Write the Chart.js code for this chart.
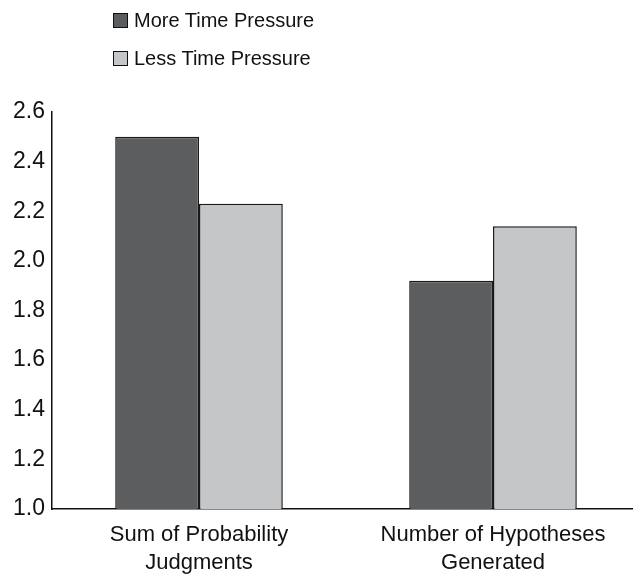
<!DOCTYPE html>
<html>
<head>
<meta charset="utf-8">
<script src="https://cdn.jsdelivr.net/npm/chart.js@4.4.0/dist/chart.umd.min.js"></script>
<style>
  html, body { margin: 0; padding: 0; background: #fff; overflow: hidden; }
  #wrap { position: relative; width: 640px; height: 576px; }
  #legend { position: absolute; left: 113px; top: 0; font-family: "Liberation Sans", Arial, sans-serif; font-size: 20px; color: #111; }
  .item { position: absolute; left: 0; white-space: nowrap; display: flex; align-items: center; height: 24px; }
  .box { width: 13px; height: 13px; border: 1.5px solid #111; margin-right: 6px; }
</style>
</head>
<body>
<div id="wrap">
  <canvas id="chart" width="640" height="576"></canvas>
  <div id="legend"></div>
</div>
<script>
const categories = [["Sum of Probability", "Judgments"], ["Number of Hypotheses", "Generated"]];
const seriesNames = ["More Time Pressure", "Less Time Pressure"];
const moreTime = [2.50, 1.92];
const lessTime = [2.23, 2.14];
const colors = ["#5c5d5f", "#c5c6c8"];

const font = "'Liberation Sans', Arial, sans-serif";

const chart = new Chart(document.getElementById("chart"), {
  type: "bar",
  data: {
    labels: categories,
    datasets: [
      { label: seriesNames[0], data: moreTime, backgroundColor: colors[0] },
      { label: seriesNames[1], data: lessTime, backgroundColor: colors[1] }
    ]
  },
  options: {
    responsive: false,
    animation: false,
    layout: { padding: { top: 112, left: 0, right: 0, bottom: 0 } },
    datasets: {
      bar: {
        borderColor: "#1a1a1a",
        borderWidth: 1.5,
        barPercentage: 1,
        categoryPercentage: 0.57
      }
    },
    plugins: {
      legend: { display: false },
      tooltip: { enabled: false }
    },
    scales: {
      x: {
        grid: { display: false, drawTicks: false },
        border: { color: "#111", width: 1.5 },
        ticks: {
          color: "#111",
          padding: 12,
          font: { family: font, size: 22, lineHeight: 1.27 }
        },
        afterFit: s => { s.height = 67; }
      },
      y: {
        min: 1.0,
        max: 2.6,
        grid: { display: false, drawTicks: false },
        border: { color: "#111", width: 1.5 },
        ticks: {
          stepSize: 0.2,
          color: "#111",
          padding: 7,
          font: { family: font, size: 23 },
          callback: v => v.toFixed(1)
        },
        afterFit: s => { s.width = 52; }
      }
    }
  }
});

// legend stacked in two rows, built from the datasets
const legendDiv = document.getElementById("legend");
chart.data.datasets.forEach((ds, i) => {
  const item = document.createElement("div");
  item.className = "item";
  item.style.top = (8 + i * 38) + "px";
  item.innerHTML = `<span class="box" style="background:${ds.backgroundColor}"></span><span>${ds.label}</span>`;
  legendDiv.appendChild(item);
});
</script>
</body>
</html>
